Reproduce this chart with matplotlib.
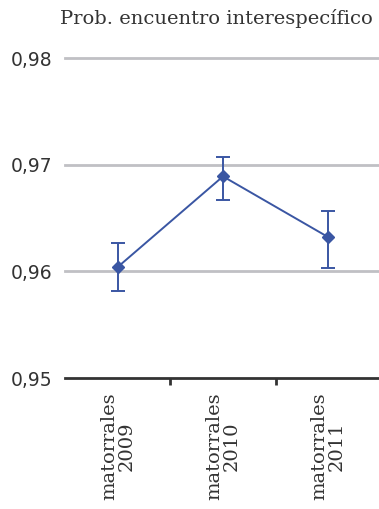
import numpy as np
import matplotlib.pyplot as plt

categories = ['matorrales\n2009', 'matorrales\n2010', 'matorrales\n2011']
values = [0.9604, 0.9689, 0.9632]
err_low = [0.9582, 0.9667, 0.9603]
err_high = [0.9627, 0.9707, 0.9657]
yticks = [0.95, 0.96, 0.97, 0.98]
ytick_labels = ['0,95', '0,96', '0,97', '0,98']
title = 'Prob. encuentro interespecífico'

C_line = '#3a56a3'
C_grid = '#c0c0c4'
C_axis = '#333333'

fig = plt.figure(figsize=(3.79, 5.09), dpi=100)
ax = fig.add_axes([65 / 379, 1 - 378 / 509, 316 / 379, (378 - 58) / 509])

x = np.arange(len(categories))
v = np.array(values)
yerr = np.vstack([v - np.array(err_low), np.array(err_high) - v])
ax.errorbar(x, v, yerr=yerr, color=C_line, lw=1.4, marker='D', ms=6,
            capsize=5, capthick=1.4, elinewidth=1.4, zorder=3)

ax.set_xlim(-0.5, 2.5)
ax.set_ylim(0.95, 0.98)
ax.set_yticks(yticks)
ax.set_yticklabels(ytick_labels, fontsize=13.5, color='#333333', family='DejaVu Sans')
ax.tick_params(axis='y', length=0, pad=9)
for t in yticks[1:]:
    ax.axhline(t, color=C_grid, lw=2, zorder=1, clip_on=False)

ax.set_xticks([0.5, 1.5])
ax.set_xticklabels([])
ax.tick_params(axis='x', length=5, width=2, color=C_axis, direction='out')
for i, lab in enumerate(categories):
    ax.text(i, -0.045, lab, transform=ax.get_xaxis_transform(), rotation=90,
            ha='center', va='top', fontsize=14, family='DejaVu Serif',
            color='#333333', multialignment='center', linespacing=0.95)

for s in ['top', 'right', 'left']:
    ax.spines[s].set_visible(False)
ax.spines['bottom'].set_color(C_axis)
ax.spines['bottom'].set_linewidth(2)

fig.text(60 / 379, 1 - 18 / 509, title, ha='left', va='center', fontsize=14,
         family='DejaVu Serif', color='#333333')

fig.savefig('out.png', dpi=100)
